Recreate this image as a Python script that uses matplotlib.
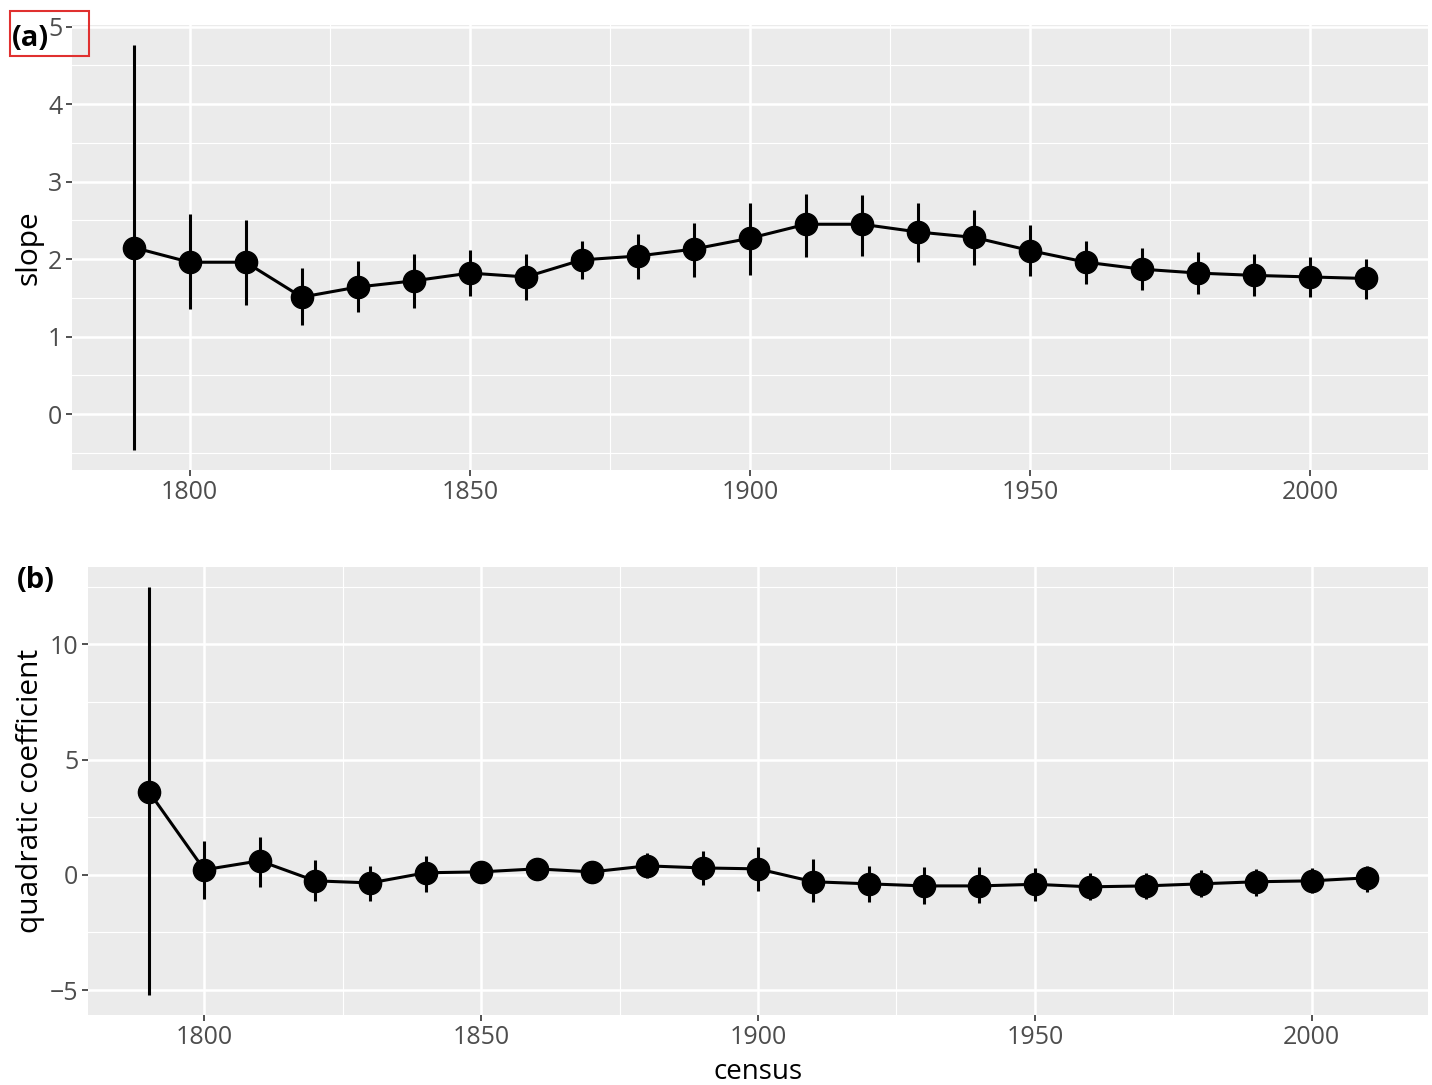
import matplotlib
matplotlib.use("Agg")
import matplotlib.pyplot as plt
from matplotlib.patches import Rectangle
import numpy as np

plt.rcParams['font.family'] = ['Open Sans', 'DejaVu Sans']

census = [1790, 1800, 1810, 1820, 1830, 1840, 1850, 1860, 1870, 1880, 1890, 1900,
          1910, 1920, 1930, 1940, 1950, 1960, 1970, 1980, 1990, 2000, 2010]

slope = [2.15, 1.96, 1.96, 1.51, 1.64, 1.72, 1.82, 1.77, 1.99, 2.04, 2.13, 2.27,
         2.45, 2.45, 2.35, 2.28, 2.11, 1.96, 1.87, 1.82, 1.79, 1.77, 1.75]
slope_lo = [-0.46, 1.35, 1.41, 1.15, 1.32, 1.37, 1.52, 1.47, 1.74, 1.74, 1.77, 1.80,
            2.03, 2.04, 1.96, 1.92, 1.78, 1.68, 1.60, 1.55, 1.53, 1.51, 1.49]
slope_hi = [4.76, 2.58, 2.51, 1.88, 1.97, 2.06, 2.12, 2.07, 2.24, 2.32, 2.47, 2.73,
            2.84, 2.83, 2.72, 2.64, 2.44, 2.24, 2.14, 2.09, 2.06, 2.03, 2.00]

quad = [3.61, 0.22, 0.61, -0.26, -0.35, 0.09, 0.13, 0.26, 0.13, 0.39, 0.30, 0.26,
        -0.30, -0.39, -0.48, -0.48, -0.41, -0.52, -0.48, -0.39, -0.30, -0.26, -0.13]
quad_lo = [-5.2, -1.04, -0.52, -1.13, -1.13, -0.74, -0.25, -0.10, -0.20, -0.13, -0.43, -0.70,
           -1.17, -1.17, -1.26, -1.22, -1.13, -1.09, -1.04, -0.96, -0.91, -0.78, -0.74]
quad_hi = [12.48, 1.48, 1.65, 0.65, 0.39, 0.83, 0.50, 0.60, 0.45, 0.96, 1.04, 1.22,
           0.70, 0.39, 0.35, 0.35, 0.30, 0.09, 0.09, 0.22, 0.26, 0.30, 0.39]

x_ticks = [1800, 1850, 1900, 1950, 2000]
y_ticks_a = [0, 1, 2, 3, 4, 5]
y_ticks_b = [-5, 0, 5, 10]

W, H = 1432, 1085
fig = plt.figure(figsize=(W / 100, H / 100), dpi=100)

def px_axes(l, t, r, b):
    return fig.add_axes([l / W, 1 - b / H, (r - l) / W, (b - t) / H])

ax1 = px_axes(72, 25, 1428, 470)
ax2 = px_axes(88, 567, 1428, 1015)

def style(ax, yticks, ylabel, lo, hi):
    ax.set_facecolor('#EBEBEB')
    for s in ax.spines.values():
        s.set_visible(False)
    ax.set_xticks(x_ticks)
    ax.set_yticks(yticks)
    ax.set_xticks([t + 25 for t in [1775] + x_ticks], minor=True)
    step = yticks[1] - yticks[0]
    ax.set_yticks([yticks[0] - step / 2] + [t + step / 2 for t in yticks], minor=True)
    x0, x1 = min(census), max(census)
    xr = x1 - x0
    ax.set_xlim(x0 - 0.05 * xr, x1 + 0.05 * xr)
    ymin, ymax = min(lo), max(hi)
    yr = ymax - ymin
    ax.set_ylim(ymin - 0.05 * yr, ymax + 0.05 * yr)
    ax.grid(True, which='major', color='white', linewidth=1.8)
    ax.grid(True, which='minor', color='white', linewidth=0.8)
    ax.set_axisbelow(True)
    ax.tick_params(which='major', length=4, width=1.2, color='#333333',
                   labelsize=18, labelcolor='#4D4D4D', pad=3)
    ax.tick_params(which='minor', length=0)
    ax.set_ylabel(ylabel, fontsize=21.5, color='black', labelpad=3)

def draw(ax, y, lo, hi):
    yerr = [np.array(y) - np.array(lo), np.array(hi) - np.array(y)]
    ax.errorbar(census, y, yerr=yerr, fmt='none', ecolor='black', elinewidth=2.2,
                capsize=0, zorder=3)
    ax.plot(census, y, color='black', linewidth=2.2, zorder=4)
    ax.plot(census, y, 'o', color='black', markersize=16, zorder=5)

draw(ax1, slope, slope_lo, slope_hi)
style(ax1, y_ticks_a, 'slope', slope_lo, slope_hi)

draw(ax2, quad, quad_lo, quad_hi)
style(ax2, y_ticks_b, 'quadratic coefficient', quad_lo, quad_hi)
ax2.set_yticklabels(['\u22125', '0', '5', '10'])
ax2.set_xlabel('census', fontsize=20, color='black', labelpad=6)

fig.text(12 / W, 1 - 38 / H, '(a)', fontsize=21, fontweight='bold', va='center', ha='left')
fig.text(17 / W, 1 - 581 / H, '(b)', fontsize=21, fontweight='bold', va='center', ha='left')
fig.patches.append(Rectangle((10 / W, 1 - 56 / H), 79 / W, 45 / H, transform=fig.transFigure,
                             fill=False, edgecolor='#E0302F', linewidth=1.5, zorder=10))

fig.savefig('out.png', dpi=100)
